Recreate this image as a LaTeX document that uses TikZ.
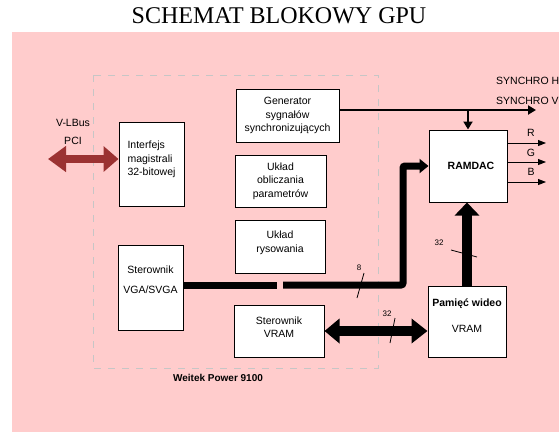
\documentclass[tikz,border=0pt]{standalone}
\usepackage{fontspec}
\setmainfont{Liberation Sans}
\newfontfamily\titlefont{Liberation Serif}
\usetikzlibrary{arrows.meta}
\definecolor{bgpink}{RGB}{255,204,204}
\definecolor{pcired}{RGB}{155,50,50}
\tikzset{
	blk/.style={draw,line width=1pt,fill=white,rectangle,align=center,inner sep=2pt,font=\fontsize{10.5}{13.5}\selectfont},
	chip/.style={draw=gray!45,line width=0.8pt,dash pattern=on 7pt off 7pt},
	sig/.style={line width=2.4pt,-{Triangle[length=8pt,width=9pt]}},
	col/.style={line width=0.9pt,-{Triangle[length=8pt,width=6pt]}},
	bus/.style={line width=7pt},
	wide/.style={line width=10pt},
	tick/.style={line width=0.8pt},
	lbl/.style={inner sep=0pt,font=\fontsize{10.5}{12}\selectfont},
	num/.style={inner sep=0pt,font=\fontsize{8}{9}\selectfont}
}
\begin{document}
\begin{tikzpicture}[x=1pt,y=-1pt]
            \useasboundingbox (0,0) rectangle (559,432);
            \fill[bgpink] (12,32) rectangle (559,432);
            \node[font=\titlefont\fontsize{24}{26}\selectfont] (title) at (279,16) {SCHEMAT BLOKOWY GPU};
            \draw[chip] (93,75) rectangle (378,368);
            \node[font=\bfseries\fontsize{10}{12}\selectfont] (chipname) at (218,378) {Weitek Power 9100};
            \node[blk,align=left,minimum width=65pt,minimum height=84pt] (iface) at (151.5,164) {Interfejs\\magistrali\\32-bitowej\\[-2pt]\mbox{}};
            \node[blk,minimum width=103pt,minimum height=53pt] (gen) at (287.5,115.5) {Generator\\sygnałów\\synchronizujących};
            \node[blk,minimum width=91pt,minimum height=52pt] (calc) at (280.5,181) {Układ\\obliczania\\parametrów};
            \node[blk,minimum width=90pt,minimum height=53pt] (draw) at (280,246.5) {Układ\\rysowania\\[-4pt]\mbox{}};
            \node[blk,minimum width=65pt,minimum height=85pt] (vga) at (150.5,287.5) {Sterownik\\[6.5pt]VGA/SVGA\\[2pt]\mbox{}};
            \node[blk,minimum width=90pt,minimum height=52pt] (vramctl) at (279,331) {Sterownik\\VRAM\\[-6pt]\mbox{}};
            \node[blk,font=\bfseries\fontsize{10.5}{13.5}\selectfont,minimum width=78pt,minimum height=72pt] (ramdac) at (468,166) {\hspace*{6pt}RAMDAC};
            \node[blk,minimum width=78pt,minimum height=71pt] (vram) at (467,321.5) {\textbf{Pamięć wideo}\\[12.5pt]VRAM\\[-1pt]\mbox{}};
            \coordinate (pci) at (48,159);
            \coordinate (sync) at (536,110);
            \coordinate (r) at (546,143);
            \coordinate (g) at (546,162);
            \coordinate (b) at (546,182);
            \coordinate (gapl) at (277,285);
            \coordinate (gapr) at (283,285);
            \coordinate (bend) at (403,285);
            \node[lbl] (vlbus) at (73,123) {V-LBus};
            \node[lbl] (pcitext) at (73,141) {PCI};
            \node[lbl,anchor=west] (synch) at (496,81) {SYNCHRO H};
            \node[lbl,anchor=west] (syncv) at (496,101) {SYNCHRO V};
            \node[lbl] (rl) at (531,133) {R};
            \node[lbl] (gl) at (531,153) {G};
            \node[lbl] (bl) at (531,172) {B};
            \draw[pcired,line width=8pt,{Triangle[length=18pt,width=25pt]}-{Triangle[length=15pt,width=25pt]}] (pci) -- (iface.west |- pci);
            \draw[sig] (gen.east |- sync) -- (sync);
            \draw[sig] (ramdac.north |- sync) -- (ramdac.north);
            \draw[col] (ramdac.east |- r) -- (r);
            \draw[col] (ramdac.east |- g) -- (g);
            \draw[col] (ramdac.east |- b) -- (b);
            \draw[bus] (vga.east |- gapl) -- (gapl);
            \draw[bus,rounded corners=2pt,-{Triangle[length=9pt,width=14pt]}] (gapr) -- (bend) -- (bend |- ramdac.west) -- (ramdac.west);
            \draw[wide,{Triangle[length=15pt,width=24pt]}-{Triangle[length=16pt,width=24pt]}] (vramctl.east) -- (vramctl.east -| vram.west);
            \draw[wide,-{Triangle[length=13pt,width=24pt]}] (vram.north) -- (vram.north |- ramdac.south);
            \draw[tick] (357,298) -- (364,273);
            \node[num] (w8) at (359,268) {8};
            \draw[tick] (390,343) -- (395,318);
            \node[num] (w32a) at (387,314) {32};
            \draw[tick] (451,250) -- (477,257);
            \node[num] (w32b) at (439,243) {32};
        \end{tikzpicture}
\end{document}
